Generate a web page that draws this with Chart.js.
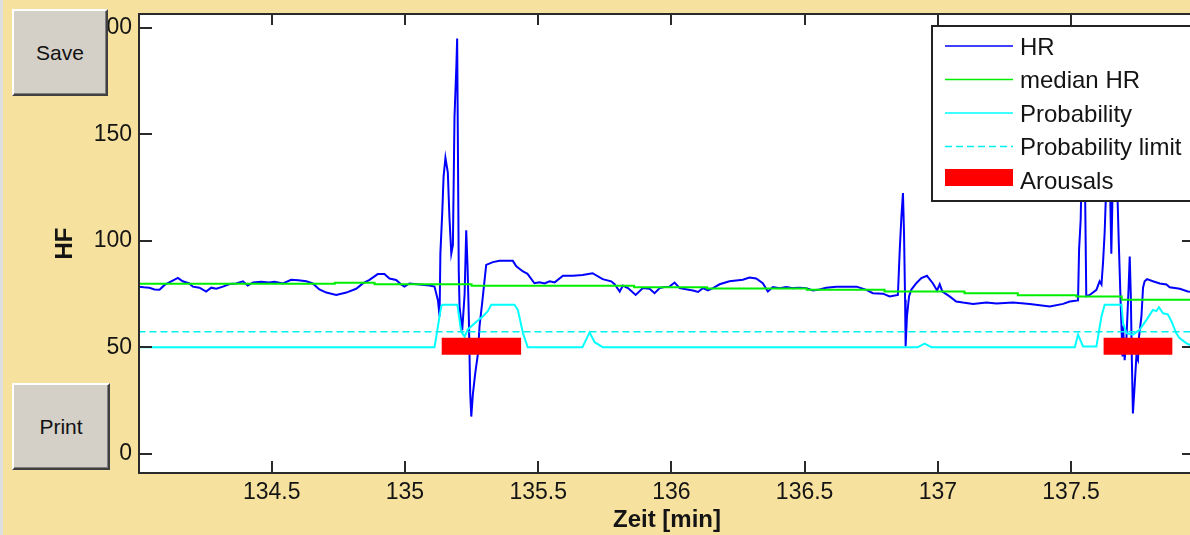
<!DOCTYPE html>
<html>
<head>
<meta charset="utf-8">
<script src="https://cdn.jsdelivr.net/npm/chart.js@4"></script>
<style>
  html, body { margin: 0; padding: 0; overflow: hidden; }
  body { width: 1190px; height: 535px; background: #f6e29e; position: relative; font-family: "Liberation Sans", Arial, sans-serif; }
  #edge { position: absolute; left: 0; top: 0; width: 3px; height: 535px; background: #dedede; }
  #chart { position: absolute; left: 0; top: 0; }
  .btn { position: absolute; left: 12px; box-sizing: border-box; background: #d4d0c8;
         border: 2px solid; border-color: #ffffff #404040 #404040 #ffffff;
         box-shadow: inset -1px -1px 0 #808080; font-size: 21px; color: #111;
         display: flex; align-items: center; justify-content: center; }
</style>
</head>
<body>
<div id="edge"></div>
<canvas id="chart" width="1200" height="535"></canvas>
<div class="btn" style="top:9px;width:96px;height:87px">Save</div>
<div class="btn" style="top:383px;width:98px;height:87px">Print</div>
<script>
// axis ranges and ticks
const xRange = [134.002, 137.965];
const yRange = [-9, 206.5];
const xTicks = [134.5, 135, 135.5, 136, 136.5, 137, 137.5];
const yTicks = [0, 50, 100, 150, 200];

// heart rate (min, bpm)
const hrTime = [
  134.000, 134.020, 134.041, 134.060, 134.079, 134.098, 134.123, 134.148, 134.166, 134.191,
  134.204, 134.229, 134.254, 134.273, 134.292, 134.317, 134.342, 134.367, 134.392, 134.410,
  134.430, 134.461, 134.490, 134.511, 134.542, 134.573, 134.600, 134.630, 134.654, 134.679,
  134.705, 134.742, 134.780, 134.817, 134.842, 134.867, 134.898, 134.923, 134.942, 134.967,
  134.986, 134.998, 135.017, 135.055, 135.092, 135.111, 135.124, 135.130, 135.133, 135.140,
  135.145, 135.152, 135.161, 135.167, 135.174, 135.180, 135.186, 135.193, 135.196, 135.202,
  135.205, 135.215, 135.224, 135.230, 135.235, 135.240, 135.245, 135.249, 135.255, 135.264,
  135.274, 135.280, 135.290, 135.299, 135.305, 135.330, 135.355, 135.405, 135.418, 135.443,
  135.460, 135.486, 135.505, 135.524, 135.543, 135.562, 135.593, 135.630, 135.667, 135.704,
  135.742, 135.774, 135.787, 135.806, 135.818, 135.837, 135.866, 135.893, 135.918, 135.937,
  135.956, 135.974, 135.993, 136.012, 136.031, 136.081, 136.100, 136.118, 136.137, 136.156,
  136.181, 136.218, 136.268, 136.293, 136.318, 136.343, 136.362, 136.381, 136.406, 136.431,
  136.456, 136.481, 136.506, 136.531, 136.556, 136.581, 136.619, 136.656, 136.695, 136.732,
  136.756, 136.794, 136.819, 136.850, 136.857, 136.863, 136.869, 136.873, 136.877, 136.879,
  136.884, 136.892, 136.900, 136.919, 136.938, 136.959, 136.981, 136.997, 137.007, 137.017,
  137.044, 137.069, 137.094, 137.132, 137.182, 137.220, 137.282, 137.345, 137.420, 137.470,
  137.495, 137.526, 137.530, 137.536, 137.540, 137.551, 137.557, 137.570, 137.595, 137.607,
  137.614, 137.620, 137.626, 137.633, 137.641, 137.647, 137.651, 137.656, 137.664, 137.671,
  137.679, 137.686, 137.693, 137.695, 137.701, 137.708, 137.716, 137.720, 137.724, 137.728,
  137.732, 137.739, 137.745, 137.751, 137.755, 137.764, 137.770, 137.776, 137.785, 137.807,
  137.833, 137.858, 137.870, 137.908, 137.938, 137.965
];
const hrBpm = [
  78.5, 78.2, 78, 77.2, 77, 79.3, 81, 82.6, 81, 80,
  78.5, 78, 76.2, 78, 77.5, 78.5, 79.7, 80, 81, 79,
  80.5, 80.8, 80.4, 80.8, 80, 81.7, 81.5, 81, 80, 77.2,
  75.7, 74.6, 75.7, 77.5, 80, 81.7, 84.4, 84.4, 82.3, 81.6,
  79.5, 78.5, 80, 79.5, 79, 78.5, 72, 64.5, 94, 113,
  130, 139, 132, 111, 94, 98, 158, 182, 195, 86,
  69, 58, 75, 105, 88, 63, 28.5, 17.5, 28, 38,
  47, 60, 71, 81.7, 88.7, 90, 90.6, 90.6, 88, 85.6,
  84.5, 80.1, 80.6, 80, 81, 80.5, 83.6, 83.6, 84, 84.8,
  82, 81, 79.6, 76.2, 79, 77.8, 74.6, 77.8, 77.5, 75.4,
  77.8, 78.3, 78.5, 80.4, 77.8, 76.7, 76, 77.8, 76.7, 77.8,
  79.6, 81, 81.7, 82.8, 82.3, 80.1, 76.2, 78.3, 77.8, 78.3,
  77.8, 78, 77.8, 76.7, 77.2, 78, 78.5, 78.5, 78.5, 77,
  75.4, 75.2, 73.9, 74.6, 95.8, 110.8, 122.4, 103.7, 72.3, 50.4,
  64.5, 74, 77, 80.1, 82.5, 83.6, 80.1, 76.7, 79.6, 76.2,
  73.9, 71.5, 71, 70.4, 71, 70.6, 71, 70.4, 69.2, 70.4,
  71.5, 72, 96, 110, 135, 140, 74, 74.6, 77, 81,
  79.5, 90, 104, 130, 135, 120, 94, 125, 140, 135,
  99, 71, 45.7, 60, 44, 55, 78.5, 92.6, 75, 44,
  19, 33, 45.7, 44, 55, 64.5, 78, 81, 82, 81,
  80, 79.5, 78.2, 77.5, 76.2, 76
];

// median heart rate, step starts
const medianTime = [134.0, 134.737, 134.886, 135.25, 135.86, 136.134, 136.508, 136.8, 137.1, 137.3, 137.52, 137.69, 137.83, 137.965];
const medianBpm = [80.3, 79.8, 80.3, 79.6, 78.9, 78.2, 77.6, 77.0, 76.2, 75.4, 74.5, 73.9, 72.3, 72.3];

// arousal probability (scaled onto the HF axis)
const probTime = [
  134.000, 135.111, 135.136, 135.141, 135.197, 135.211, 135.224, 135.236, 135.268, 135.292,
  135.311, 135.324, 135.411, 135.424, 135.443, 135.461, 135.666, 135.693, 135.712, 135.743,
  136.924, 136.950, 136.977, 137.514, 137.526, 137.545, 137.595, 137.614, 137.626, 137.689,
  137.695, 137.708, 137.732, 137.757, 137.783, 137.807, 137.820, 137.830, 137.845, 137.863,
  137.876, 137.895, 137.907, 137.932, 137.965
];
const probValue = [
  50, 50, 69.2, 70, 70, 57.4, 55, 58.4, 62, 64.5,
  67, 70, 70, 67.5, 56.6, 50, 50, 57, 52.4, 50,
  50, 51.7, 50, 50, 56, 50.4, 50.4, 64.5, 70, 70,
  61.4, 56.6, 55.9, 58.2, 62.9, 67.6, 67, 68.8, 66, 65.5,
  62.4, 56.6, 54.3, 52, 50
];

const limitTime = [134.0, 137.965];
const limitValue = [57.3, 57.3];

// detected arousals
const arousalStart = [135.138, 137.622];
const arousalEnd = [135.436, 137.880];
const arousalLevel = 50.5;

const pts = (xs, ys) => xs.map((x, i) => ({ x: x, y: ys[i] }));

const arousalData = [];
arousalStart.forEach((s, i) => {
  arousalData.push({ x: s, y: arousalLevel }, { x: arousalEnd[i], y: arousalLevel }, { x: arousalEnd[i], y: null });
});

const FONT = '"Liberation Sans", Arial, sans-serif';
const INK = '#141414';

// white axes background, box and inward tick marks
const frame = {
  id: 'frame',
  beforeDraw(chart) {
    const { ctx, chartArea: a } = chart;
    ctx.save();
    ctx.fillStyle = '#ffffff';
    ctx.fillRect(a.left, a.top, a.right - a.left, a.bottom - a.top);
    ctx.restore();
  },
  afterDatasetsDraw(chart) {
    const { ctx, chartArea: a, scales } = chart;
    ctx.save();
    ctx.strokeStyle = '#2a2a2a';
    ctx.lineWidth = 2;
    ctx.beginPath();
    scales.x.ticks.forEach(t => {
      const px = Math.round(scales.x.getPixelForValue(t.value));
      ctx.moveTo(px, a.bottom); ctx.lineTo(px, a.bottom - 12);
      ctx.moveTo(px, a.top); ctx.lineTo(px, a.top + 11);
    });
    scales.y.ticks.forEach(t => {
      const py = Math.round(scales.y.getPixelForValue(t.value));
      ctx.moveTo(a.left, py); ctx.lineTo(a.left + 13, py);
      ctx.moveTo(a.right, py); ctx.lineTo(a.right - 13, py);
    });
    ctx.stroke();
    ctx.strokeRect(a.left, a.top, a.right - a.left, a.bottom - a.top);
    ctx.restore();
  }
};

// matlab-like boxed legend in the top right corner
const boxLegend = {
  id: 'boxLegend',
  afterDraw(chart) {
    const { ctx, chartArea: a } = chart;
    const left = a.right - 263, top = a.top + 12, w = 262, h = 175;
    ctx.save();
    ctx.fillStyle = '#ffffff';
    ctx.fillRect(left, top, w, h);
    ctx.strokeStyle = '#222';
    ctx.lineWidth = 2;
    ctx.strokeRect(left, top, w, h);
    ctx.font = '24px ' + FONT;
    ctx.textBaseline = 'middle';
    chart.data.datasets.forEach((ds, i) => {
      const rowY = top + 22 + i * 33.5;
      if (ds.borderWidth > 5) {
        ctx.fillStyle = ds.borderColor;
        ctx.fillRect(left + 13, rowY - 13, 68, 17);
      } else {
        ctx.strokeStyle = ds.borderColor;
        ctx.lineWidth = Math.min(ds.borderWidth, 1.5);
        ctx.setLineDash(ds.borderDash || []);
        ctx.beginPath();
        ctx.moveTo(left + 13, rowY - 2);
        ctx.lineTo(left + 81, rowY - 2);
        ctx.stroke();
        ctx.setLineDash([]);
      }
      ctx.fillStyle = INK;
      ctx.fillText(ds.label, left + 88, rowY);
    });
    ctx.restore();
  }
};

new Chart(document.getElementById('chart'), {
  type: 'line',
  data: {
    datasets: [
      { label: 'HR', data: pts(hrTime, hrBpm), borderColor: '#0000ff', borderWidth: 2, order: 5 },
      { label: 'median HR', data: pts(medianTime, medianBpm), borderColor: '#00ee00', borderWidth: 2, stepped: 'after', order: 4 },
      { label: 'Probability', data: pts(probTime, probValue), borderColor: '#00ffff', borderWidth: 2, order: 3 },
      { label: 'Probability limit', data: pts(limitTime, limitValue), borderColor: '#00f0f0', borderWidth: 1.5, borderDash: [7, 4], order: 2 },
      { label: 'Arousals', data: arousalData, borderColor: '#ff0000', borderWidth: 17, borderCapStyle: 'butt', order: 1 }
    ]
  },
  options: {
    responsive: false,
    animation: false,
    devicePixelRatio: 1,
    layout: { padding: { top: 14, right: 5, left: 0, bottom: 0 } },
    elements: { point: { radius: 0 }, line: { tension: 0 } },
    plugins: { legend: { display: false }, tooltip: { enabled: false } },
    scales: {
      x: {
        type: 'linear',
        min: xRange[0],
        max: xRange[1],
        grid: { display: false, drawTicks: false },
        border: { display: false },
        afterBuildTicks: s => { s.ticks = xTicks.map(v => ({ value: v })); },
        afterFit: s => { s.height = 62; s.paddingLeft = 0; s.paddingRight = 0; },
        ticks: { padding: 6, color: INK, font: { family: FONT, size: 23 }, maxRotation: 0, autoSkip: false, callback: v => String(v) },
        title: { display: true, text: 'Zeit [min]', color: INK, font: { family: FONT, size: 24, weight: 'bold' }, padding: { top: 0, bottom: 0 } }
      },
      y: {
        type: 'linear',
        min: yRange[0],
        max: yRange[1],
        grid: { display: false, drawTicks: false },
        border: { display: false },
        afterBuildTicks: s => { s.ticks = yTicks.map(v => ({ value: v })); },
        afterFit: s => { s.width = 139; s.paddingTop = 0; s.paddingBottom = 0; },
        ticks: { padding: 7, color: INK, font: { family: FONT, size: 23 }, autoSkip: false, callback: v => String(v) },
        title: { display: true, text: 'HF', color: INK, font: { family: FONT, size: 24, weight: 'bold' }, padding: { top: 51, bottom: 0 } }
      }
    }
  },
  plugins: [frame, boxLegend]
});
</script>
</body>
</html>
